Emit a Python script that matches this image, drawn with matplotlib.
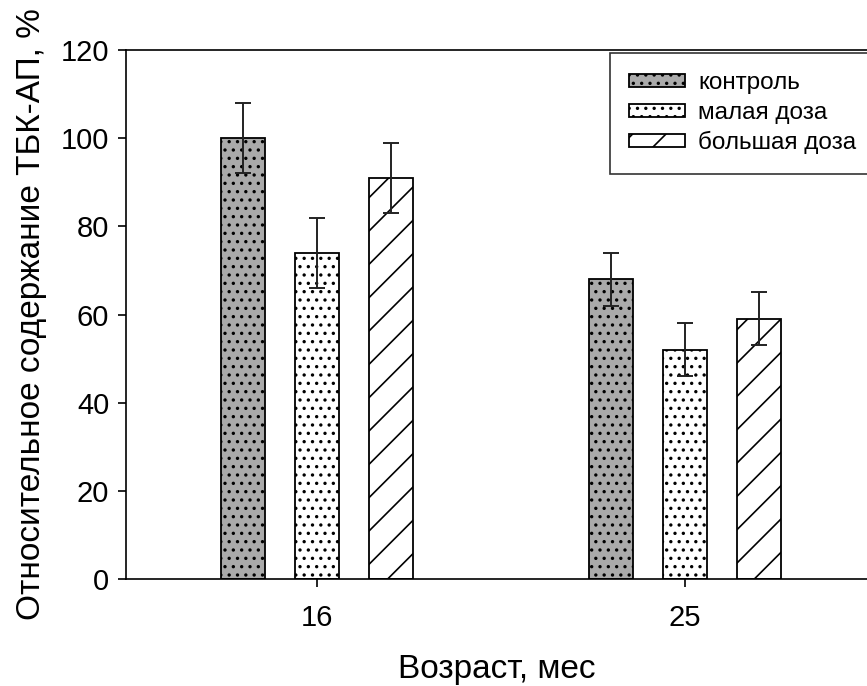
import matplotlib
matplotlib.use("Agg")
import matplotlib.pyplot as plt
import numpy as np

plt.rcParams['font.family'] = ['Liberation Sans', 'DejaVu Sans']
plt.rcParams['hatch.linewidth'] = 1.2

ages = ["16", "25"]
series = ["контроль", "малая доза", "большая доза"]
control = [100, 68]
small_dose = [74, 52]
big_dose = [91, 59]
control_err = [8, 6]
small_err = [8, 6]
big_err = [8, 6]

values = [control, small_dose, big_dose]
errors = [control_err, small_err, big_err]
faces = ['#aaaaaa', 'white', 'white']
hatches = ['..', '..', '/']

fig = plt.figure(figsize=(8.67, 6.86), dpi=100)
ax = fig.add_axes([0.1453, 0.156, 0.8547, 0.771])

x = np.arange(len(ages))
width = 0.1196
offsets = [-0.201, 0.0, 0.201]
for vals, errs, fc, h, lab, off in zip(values, errors, faces, hatches, series, offsets):
    ax.bar(x + off, vals, width, color=fc, edgecolor='black', hatch=h,
           linewidth=1.3, label=lab, zorder=2)
    ax.errorbar(x + off, vals, yerr=errs, fmt='none', ecolor='#222222',
                elinewidth=1.4, capsize=6, capthick=1.4, zorder=3)

ax.set_xlim(-0.519, 1.495)
ax.set_ylim(0, 120)
ax.set_yticks(range(0, 121, 20))
ax.set_xticks(x)
ax.set_xticklabels(ages)
ax.tick_params(axis='both', direction='out', length=6, width=1.2, labelsize=21)
ax.tick_params(axis='x', pad=12)
ax.tick_params(axis='y', pad=6)
ax.spines['right'].set_visible(False)
for s in ['left', 'top', 'bottom']:
    ax.spines[s].set_linewidth(1.2)

ax.set_xlabel("Возраст, мес", fontsize=24, labelpad=16)
ax.set_ylabel("Относительное содержание ТБК-АП, %", fontsize=24, labelpad=10)

leg = ax.legend(loc='upper right', bbox_to_anchor=(1.012, 0.995), fontsize=17.5,
                frameon=True, fancybox=False, edgecolor='black',
                handlelength=2.3, handleheight=0.45, borderpad=0.8,
                labelspacing=0.31, handletextpad=0.55, borderaxespad=0.0)
leg.get_frame().set_linewidth(1.2)
leg.set_clip_on(False)

fig.savefig("out.png", dpi=100)
